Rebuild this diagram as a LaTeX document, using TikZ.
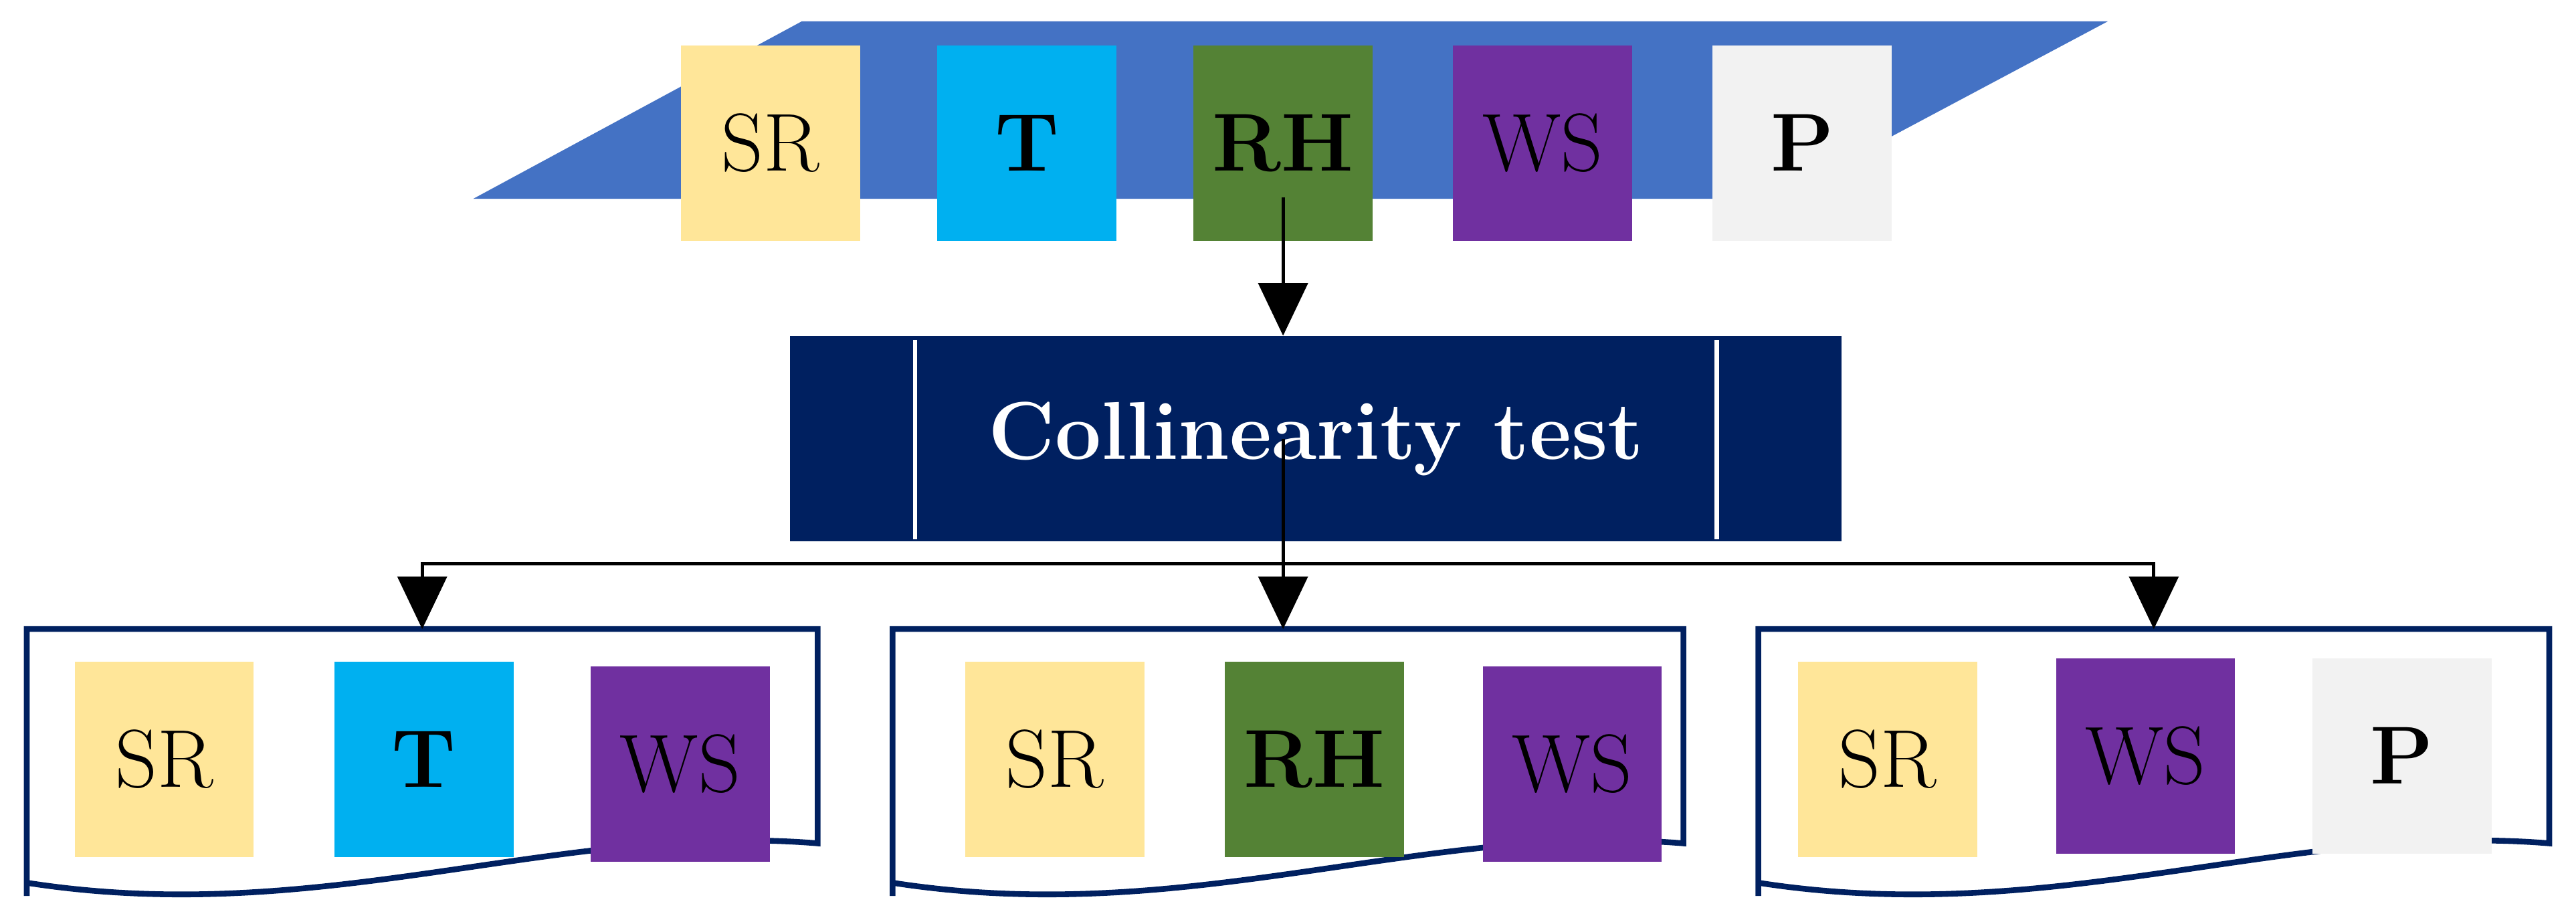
\documentclass[tikz,border=0pt]{standalone}
\usetikzlibrary{arrows.meta}
\definecolor{srcol}{HTML}{FFE699}
\definecolor{tcol}{HTML}{00B0F0}
\definecolor{rhcol}{HTML}{548235}
\definecolor{wscol}{HTML}{7030A0}
\definecolor{pcol}{HTML}{F2F2F2}
\definecolor{planecol}{HTML}{4472C4}
\definecolor{navy}{HTML}{002060}
\tikzset{
  var/.style={minimum width=109pt, minimum height=119pt, inner sep=0pt,
    font=\fontsize{50}{54}\selectfont},
  doc/.style={minimum width=481pt, minimum height=162pt, inner sep=0pt},
  arr/.style={line width=2pt, -{Triangle[length=32pt,width=30pt]}}
}
\begin{document}
\begin{tikzpicture}[x=1pt,y=-1pt]
\useasboundingbox (0,0) rectangle (1568,562);

% plane with the variables
\fill[planecol] (488,13) -- (1283,13) -- (1080,121) -- (288,121) -- cycle;
\node [var, fill=srcol] (SR) at (469,87) {SR};
\node [var, fill=tcol] (T) at (625,87) {\textbf{T}};
\node [var, fill=rhcol] (RH) at (781,87) {\textbf{RH}};
\node [var, fill=wscol] (WS) at (939,87) {WS};
\node [var, fill=pcol] (P) at (1097,87) {\textbf{P}};

% test
\node [fill=navy, text=white, minimum width=640pt, minimum height=125pt, inner sep=0pt,
  font=\fontsize{50}{54}\selectfont\bfseries] (coll) at (801,267) {Collinearity test};
\draw [white, line width=2.5pt] (557,207) -- (557,328);
\draw [white, line width=2.5pt] (1045,207) -- (1045,328);

\draw [arr] (RH.center |- 0,120) -- (RH.center |- coll.north);

% groups
\node [doc] (b1) at (257,464) {};
\node [doc] (b2) at (784,464) {};
\node [doc] (b3) at (1311,464) {};
\foreach \b in {b1,b2,b3}
  \draw [navy, line width=3.5pt] (\b.south west) -- (\b.north west) -- (\b.north east)
    -- ([yshift=32pt]\b.south east)
    .. controls ([xshift=-160pt,yshift=45pt]\b.south east) and ([xshift=180pt,yshift=-20pt]\b.south west)
    .. ([yshift=8pt]\b.south west) -- cycle;

\coordinate (split) at (788,343);
\draw [arr] (RH.center |- coll.center) -- (RH.center |- b2.north);
\draw [arr] (split) -| (b1.north);
\draw [arr] (split) -| (b3.north);

\node [var, fill=srcol] (SR1) at (100,462) {SR};
\node [var, fill=tcol] (T1) at (258,462) {\textbf{T}};
\node [var, fill=wscol] (WS1) at (414,465) {WS};

\node [var, fill=srcol] (SR2) at (642,462) {SR};
\node [var, fill=rhcol] (RH2) at (800,462) {\textbf{RH}};
\node [var, fill=wscol] (WS2) at (957,465) {WS};

\node [var, fill=srcol] (SR3) at (1149,462) {SR};
\node [var, fill=wscol] (WS3) at (1306,460) {WS};
\node [var, fill=pcol] (P3) at (1462,460) {\textbf{P}};
\end{tikzpicture}
\end{document}
